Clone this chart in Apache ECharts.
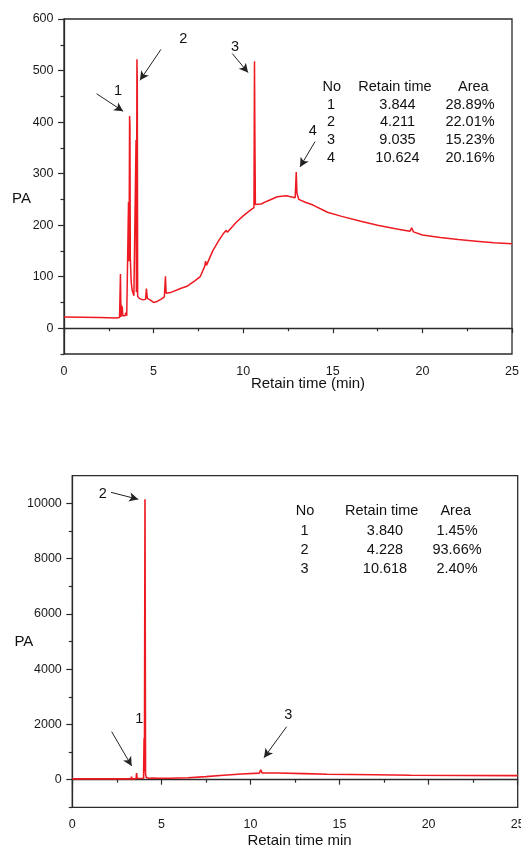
<!DOCTYPE html>
<html>
<head>
<meta charset="utf-8">
<script src="https://cdn.jsdelivr.net/npm/echarts@6/dist/echarts.min.js"></script>
<style>
html,body{margin:0;padding:0;background:#fff;}
#chart{width:521px;height:847px;}
</style>
</head>
<body>
<div id="chart"></div>
<script>
// ---------- Data: top chromatogram ----------
var topTime = [0,1,2,2.9,3.0,3.1,3.15,3.18,3.2,3.22,3.25,3.28,3.4,3.45,3.5,3.58,3.6,3.63,3.66,3.68,3.7,3.75,3.8,3.9,4.0,4.02,4.04,4.07,4.09,4.11,4.2,4.4,4.55,4.6,4.65,4.8,5.0,5.2,5.4,5.6,5.66,5.7,6.0,6.5,6.9,7.3,7.6,7.85,7.9,7.95,8.3,8.6,8.9,9.05,9.12,9.6,10.0,10.4,10.6,10.63,10.65,10.68,11.0,11.3,11.9,12.4,12.9,12.96,13.0,13.1,13.5,13.9,14.7,15.5,16.5,17.5,18.5,19.3,19.4,19.5,20,21,22,23,24,25];
var topPA   = [22,21.5,21,20,20,21,105,22,45,25,42,24,24,30,24,26,245,130,412,395,136,90,74,63,62,365,70,522,478,62,58,55,56,77,58,55,50,52,56,61,101,68,70,77,82,92,100,120,130,122,150,168,184,190,186,205,218,229,234,518,385,240,241,246,255,257,253,303,262,250,244,239,225,217,208,200,193,188,195,187,181,176,172,169,166,164];

// ---------- Data: bottom chromatogram ----------
var botTime = [0,2,3.3,3.32,3.35,3.58,3.61,3.64,4.0,4.03,4.05,4.08,4.11,4.15,4.3,4.6,4.7,4.8,5.5,6.5,7.5,8.5,9.5,10.5,10.58,10.65,11.5,13,14.3,17,19,22,25];
var botPA   = [30,28,30,110,30,35,240,40,50,1500,300,10150,200,80,50,60,90,50,50,70,110,160,205,235,360,240,240,220,195,180,160,150,145];

// ---------- Tick labels ----------
var xTicks = [0,5,10,15,20,25];
var topYTicks = [0,100,200,300,400,500,600];
var topYMinor = [-50,50,150,250,350,450,550];
var botYTicks = [0,2000,4000,6000,8000,10000];
var botYMinor = [-1000,1000,3000,5000,7000,9000];

// ---------- Peak tables ----------
var tableHeader = ['No','Retain time','Area'];
var topTableNo = ['1','2','3','4'];
var topTableTime = ['3.844','4.211','9.035','10.624'];
var topTableArea = ['28.89%','22.01%','15.23%','20.16%'];
var botTableNo = ['1','2','3'];
var botTableTime = ['3.840','4.228','10.618'];
var botTableArea = ['1.45%','93.66%','2.40%'];

// ---------- Peak annotations (label, label pos, arrow start, arrow end) in data units ----------
var topPeakLabels = ['1','2','3','4'];
var topLabelPos = [[3.01,461],[6.66,562],[9.54,546],[13.88,383]];
var topArrowFrom = [[1.82,455],[5.41,541],[9.39,533],[14.01,362]];
var topArrowTo = [[3.30,421],[4.24,481],[10.27,496],[13.17,313]];
var botPeakLabels = ['2','1','3'];
var botLabelPos = [[1.71,10327],[3.76,2185],[12.12,2340]];
var botArrowFrom = [[2.17,10399],[2.21,1736],[12.03,1917]];
var botArrowTo = [[3.70,10146],[3.33,495],[10.76,795]];

function pairs(a,b){ return a.map(function(v,i){ return [v,b[i]]; }); }

var FONT = '"Liberation Sans", Arial, sans-serif';
var AX = '#2b2b2b';
var RED = '#ee1a22';

function markLines(from,to){
  return {
    silent:true, symbol:['none','arrow'], symbolSize:[7,9],
    lineStyle:{color:'#222', width:1, type:'solid'},
    label:{show:false},
    data: from.map(function(f,i){ return [{coord:f},{coord:to[i]}]; })
  };
}
function markPoints(labels,pos){
  return {
    silent:true, symbol:'rect', symbolSize:1,
    itemStyle:{color:'rgba(0,0,0,0)'},
    label:{show:true, position:'inside', color:'#111', fontSize:14.5, fontFamily:FONT},
    data: labels.map(function(t,i){ return {coord:pos[i], value:t, label:{formatter:t}}; })
  };
}

function xAxisCfg(grid, name, gap, pad){
  return {
    type:'value', gridIndex:grid, min:0, max:25, interval:5, position:'bottom',
    axisLine:{lineStyle:{color:AX, width:1.3}},
    axisTick:{length:5, lineStyle:{color:AX, width:1.2}},
    minorTick:{show:true, splitNumber:2, length:3, lineStyle:{color:AX, width:1.2}},
    splitLine:{show:false}, minorSplitLine:{show:false},
    axisLabel:{color:'#1a1a1a', fontSize:12.5, fontFamily:FONT, margin:11},
    name:name, nameLocation:'middle', nameGap:gap, nameMoveOverlap:false,
    nameTextStyle:{color:'#111', fontSize:15, fontFamily:FONT, verticalAlign:'top', padding:pad}
  };
}
function yMajor(grid,min,max,ticks,name,gap,pad,va){
  return {
    type:'value', gridIndex:grid, min:min, max:max, position:'left',
    axisLine:{show:true, lineStyle:{color:AX, width:1.3}},
    axisTick:{show:true, length:6, customValues:ticks, lineStyle:{color:AX, width:1.2}},
    axisLabel:{show:true, customValues:ticks, color:'#1a1a1a', fontSize:12.5, fontFamily:FONT, margin:10.5,
               formatter:function(v){ return String(v); }},
    splitLine:{show:false},
    name:name, nameLocation:'middle', nameRotate:0, nameGap:gap, nameMoveOverlap:false,
    nameTextStyle:{color:'#111', fontSize:15, fontFamily:FONT, padding:pad, verticalAlign:va}
  };
}
function yMinor(grid,min,max,ticks){
  return {
    type:'value', gridIndex:grid, min:min, max:max, position:'left', offset:0,
    axisLine:{show:false},
    axisTick:{show:true, length:3.5, customValues:ticks, lineStyle:{color:AX, width:1.2}},
    axisLabel:{show:false},
    splitLine:{show:false}
  };
}

function tableGraphics(x0s, hdrX, yHdr, yRows, cols){
  var g = [];
  tableHeader.forEach(function(h,i){
    g.push({type:'text', x:hdrX[i], y:yHdr, silent:true,
      style:{text:h, fill:'#111', font:'14.5px '+FONT, textAlign:'center', textVerticalAlign:'middle'}});
  });
  cols.forEach(function(col,ci){
    col.forEach(function(t,ri){
      g.push({type:'text', x:x0s[ci], y:yRows[ri], silent:true,
        style:{text:t, fill:'#111', font:'14.5px '+FONT, textAlign:'center', textVerticalAlign:'middle'}});
    });
  });
  return g;
}

var graphics = []
  .concat(tableGraphics([331,397.5,470],[331.7,395,473.3],86.7,[105,122.3,140,157.7],[topTableNo,topTableTime,topTableArea]))
  .concat(tableGraphics([304.5,385,457],[305,381.7,455.7],510.7,[530.7,550,569],[botTableNo,botTableTime,botTableArea]));

var chart = echarts.init(document.getElementById('chart'), null, {renderer:'canvas'});
chart.setOption({
  backgroundColor:'#ffffff',
  animation:false,
  textStyle:{fontFamily:FONT},
  grid:[
    {left:64, top:19, right:9, bottom:493, show:true, borderColor:AX, borderWidth:1.3, backgroundColor:'transparent', outerBoundsMode:'none', containLabel:false},
    {left:72.3, top:475.7, right:3.3, bottom:39.7, show:true, borderColor:AX, borderWidth:1.3, backgroundColor:'transparent', outerBoundsMode:'none', containLabel:false}
  ],
  xAxis:[
    xAxisCfg(0,'Retain time (min)',22.5,[0,0,0,40]),
    xAxisCfg(1,'Retain time min',26,[0,0,0,9])
  ],
  yAxis:[
    yMajor(0,-50,600,topYTicks,'PA',33,[5,0,0,0],'top'),
    yMinor(0,-50,600,topYMinor),
    yMajor(1,-1000,11000,botYTicks,'PA',39,[0,0,0,0],'middle'),
    yMinor(1,-1000,11000,botYMinor)
  ],
  series:[
    {type:'line', xAxisIndex:0, yAxisIndex:0, data:pairs(topTime,topPA), showSymbol:false, sampling:null,
     lineStyle:{color:RED, width:1.5}, itemStyle:{color:RED},
     markLine:markLines(topArrowFrom,topArrowTo), markPoint:markPoints(topPeakLabels,topLabelPos)},
    {type:'line', xAxisIndex:1, yAxisIndex:2, data:pairs(botTime,botPA), showSymbol:false, sampling:null,
     lineStyle:{color:RED, width:1.6}, itemStyle:{color:RED},
     markLine:markLines(botArrowFrom,botArrowTo), markPoint:markPoints(botPeakLabels,botLabelPos)}
  ],
  graphic: graphics
});
</script>
</body>
</html>
